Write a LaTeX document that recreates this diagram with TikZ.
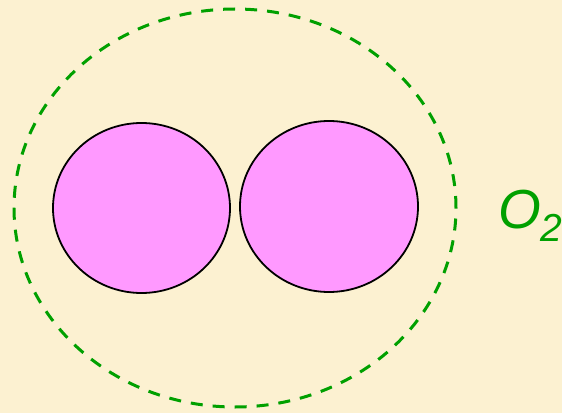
\documentclass[tikz,border=0pt]{standalone}
\usepackage{fontspec}
\setsansfont{Liberation Sans}
\usetikzlibrary{shapes.geometric}
\definecolor{bg}{HTML}{FCF1D1}
\definecolor{grn}{HTML}{00A000}
\definecolor{pnk}{HTML}{FF99FF}
\begin{document}
\begin{tikzpicture}[x=1pt,y=1pt,
  atom/.style={ellipse,draw=black,fill=pnk,line width=1.8pt,inner sep=0pt},
  molec/.style={ellipse,draw=grn,line width=3pt,dash pattern=on 12pt off 10pt,inner sep=0pt}]
\fill[bg] (0,0) rectangle (562,413);
\useasboundingbox (0,0) rectangle (562,413);
\node[molec,minimum width=442pt,minimum height=398pt] (mol) at (235,205) {};
\node[atom,minimum width=177pt,minimum height=170pt] (a1) at (141.5,205) {};
\node[atom,minimum width=178pt,minimum height=171pt] (a2) at (329,206.5) {};
\node[anchor=base west,inner sep=0pt,text=grn,font=\sffamily\itshape\fontsize{55}{60}\selectfont] (o2) at (498,185) {O\raisebox{-13pt}{\fontsize{39}{42}\selectfont 2}};
\end{tikzpicture}
\end{document}
